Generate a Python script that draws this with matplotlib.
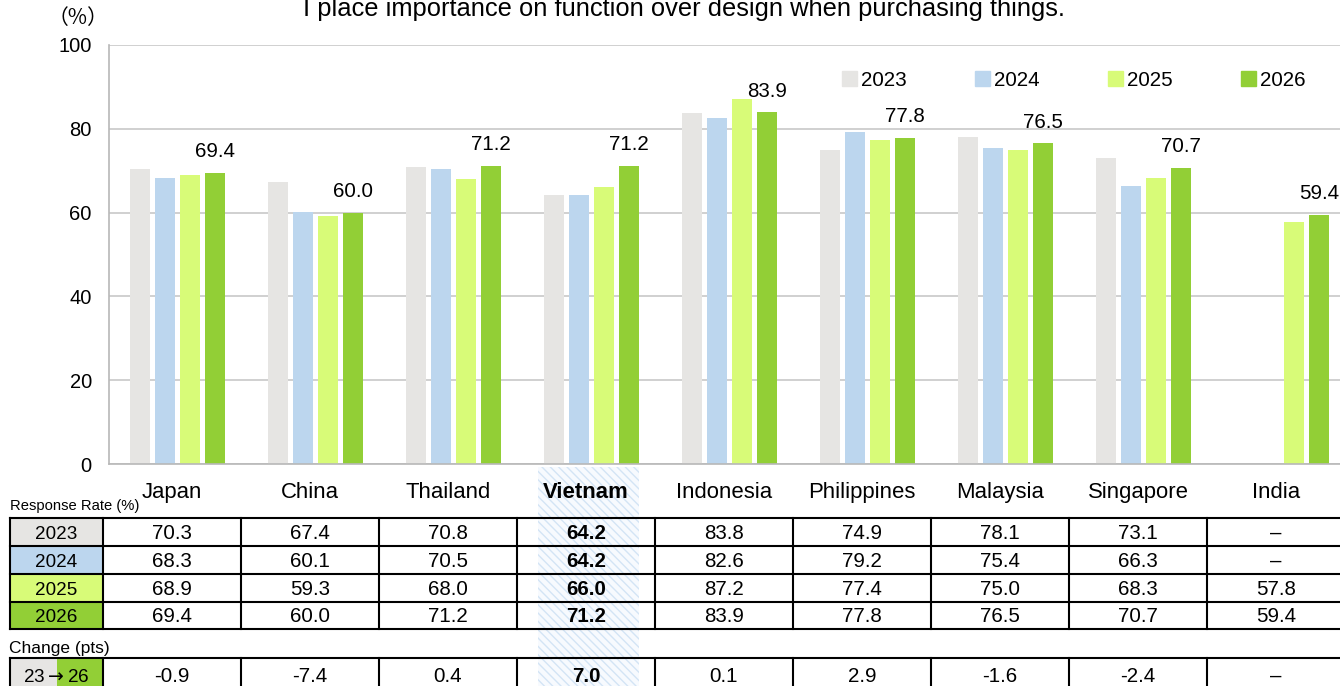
import matplotlib
matplotlib.use('Agg')
from matplotlib import pyplot as plt
from matplotlib import transforms
from matplotlib.patches import Rectangle, Patch
from matplotlib.lines import Line2D
import numpy as np

plt.rcParams['font.family'] = ['Liberation Sans', 'DejaVu Sans']
plt.rcParams['hatch.linewidth'] = 1.0

# data
countries = ['Japan', 'China', 'Thailand', 'Vietnam', 'Indonesia',
             'Philippines', 'Malaysia', 'Singapore', 'India']
years = ['2023', '2024', '2025', '2026']
v2023 = [70.3, 67.4, 70.8, 64.2, 83.8, 74.9, 78.1, 73.1, np.nan]
v2024 = [68.3, 60.1, 70.5, 64.2, 82.6, 79.2, 75.4, 66.3, np.nan]
v2025 = [68.9, 59.3, 68.0, 66.0, 87.2, 77.4, 75.0, 68.3, 57.8]
v2026 = [69.4, 60.0, 71.2, 71.2, 83.9, 77.8, 76.5, 70.7, 59.4]
change = [-0.9, -7.4, 0.4, 7.0, 0.1, 2.9, -1.6, -2.4, np.nan]
colors = ['#e6e5e3', '#bcd6ee', '#d8fb78', '#92cf36']
highlight = 'Vietnam'
title = 'I place importance on function over design when purchasing things.'

W, H = 1340, 686


def fx(px):
    return px / W


def fy(py):
    return 1 - py / H


fig = plt.figure(figsize=(W / 100, H / 100), dpi=100)
ax = fig.add_axes([fx(108.5), fy(464), (1350.5 - 108.5) / W, (464 - 45) / H])

x = np.arange(len(countries))
width = 0.145
pitch = 0.181
series = [v2023, v2024, v2025, v2026]
for j, vals in enumerate(series):
    ax.bar(x + (j - 1.5) * pitch, vals, width=width, color=colors[j], zorder=2)

# value labels on the latest year
for i, v in enumerate(v2026):
    ax.annotate(f'{v:.1f}', (x[i] + 1.5 * pitch, v), xytext=(0, 8.5),
                textcoords='offset points', ha='center', va='bottom', fontsize=14.8)

ax.set_xlim(-0.5, len(countries) - 0.5)
ax.set_ylim(0, 100)
ax.set_yticks([0, 20, 40, 60, 80, 100])
ax.set_xticks([])
ax.tick_params(axis='y', length=0, labelsize=14.5, pad=12)
ax.yaxis.grid(True, color='#c8c8c8', linewidth=1.2, zorder=0)
ax.set_axisbelow(True)
for s in ['top', 'right']:
    ax.spines[s].set_visible(False)
ax.spines['left'].set_color('#b8b8b8')
ax.spines['bottom'].set_color('#b8b8b8')
ax.spines['left'].set_linewidth(1.2)
ax.spines['bottom'].set_linewidth(1.2)

handles = [Patch(color=c) for c in colors]
ax.legend(handles, years, ncol=4, loc='center left',
          bbox_to_anchor=(fx(842), fy(80.5)), bbox_transform=fig.transFigure,
          frameon=False, handlelength=0.72, handleheight=0.72, handletextpad=0.2,
          columnspacing=3.3, borderpad=0, borderaxespad=0, fontsize=14.9)

# the title is cut by the top edge, as in the original picture
fig.text(fx(684), fy(16), title, ha='center', va='baseline', fontsize=18.4)
fig.text(fx(78), fy(18), '（%）', ha='center', va='center', fontsize=15,
         family=['Noto Sans CJK JP', 'DejaVu Sans'])

# table below the chart, x in category units, y in figure units
bt = transforms.blended_transform_factory(ax.transData, fig.transFigure)
shift = -0.04
hi = countries.index(highlight)

# highlighted column
fig.patches.append(Rectangle((hi - 0.389, 0), 0.734, fy(467), transform=bt,
                             facecolor='#f7fafe', edgecolor='#d3e4f5', hatch='\\\\\\\\',
                             linewidth=0, zorder=0))

for i, c in enumerate(countries):
    fig.text(i + shift, fy(498), c, transform=bt, ha='center', va='baseline',
             fontsize=15.9, fontweight='bold' if c == highlight else 'normal')

fig.text(fx(10), fy(506), 'Response Rate (%)', ha='left', va='center', fontsize=10.6)
fig.text(fx(9), fy(648), 'Change (pts)', ha='left', va='center', fontsize=12.5)

edges = [518, 546, 574, 602, 629]
left_px, lab_px = 10, 103
lw = 1.5

for r, vals in enumerate(series):
    top, bot = edges[r], edges[r + 1]
    fig.patches.append(Rectangle((fx(left_px), fy(bot)), fx(lab_px - left_px),
                                 (bot - top) / H, transform=fig.transFigure,
                                 facecolor=colors[r], edgecolor='none', zorder=1))
    fig.text(fx((left_px + lab_px) / 2), fy(bot - 7), years[r], ha='center',
             va='baseline', fontsize=13.6)
    for i, v in enumerate(vals):
        s = '–' if np.isnan(v) else f'{v:.1f}'
        fig.text(i + shift, fy(bot - 7), s, transform=bt, ha='center', va='baseline',
                 fontsize=14.8, fontweight='bold' if countries[i] == highlight else 'normal')

# change row
ctop, cbot = 658, 692
mid_px = 57
fig.patches.append(Rectangle((fx(left_px), fy(cbot)), fx(mid_px - left_px), (cbot - ctop) / H,
                             transform=fig.transFigure, facecolor=colors[0],
                             edgecolor='none', zorder=1))
fig.patches.append(Rectangle((fx(mid_px), fy(cbot)), fx(lab_px - mid_px), (cbot - ctop) / H,
                             transform=fig.transFigure, facecolor=colors[3],
                             edgecolor='none', zorder=1))
fig.text(fx((left_px + lab_px) / 2), fy(682), r'23$\rightarrow$26', ha='center',
         va='baseline', fontsize=13.6)
for i, v in enumerate(change):
    s = '–' if np.isnan(v) else f'{v:.1f}'
    fig.text(i + shift, fy(682), s, transform=bt, ha='center', va='baseline',
             fontsize=14.8, fontweight='bold' if countries[i] == highlight else 'normal')

# grid lines of both tables
for y0, y1, hlines in [(edges[0], edges[-1], edges), (ctop, cbot, [ctop])]:
    for yy in hlines:
        fig.lines.append(Line2D([fx(left_px), 1.01], [fy(yy), fy(yy)],
                                transform=fig.transFigure, color='black', lw=lw, zorder=3))
    for xp in [left_px, lab_px]:
        fig.lines.append(Line2D([fx(xp), fx(xp)], [fy(y0), fy(y1)],
                                transform=fig.transFigure, color='black', lw=lw, zorder=3))
    for k in range(1, len(countries) + 1):
        fig.lines.append(Line2D([k - 0.54, k - 0.54], [fy(y0), fy(y1)],
                                transform=bt, color='black', lw=lw, zorder=3))

fig.savefig('out.png', dpi=100)
